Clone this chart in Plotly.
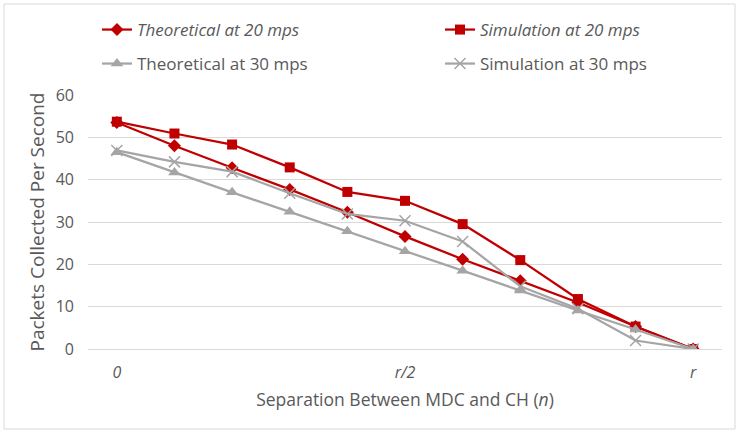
import plotly.graph_objects as go

# ---- data ----
positions = list(range(11))
tick_positions = [0, 5, 10]
tick_labels = ["<i>0</i>", "<i>r/2</i>", "<i>r</i>"]

theo_20 = [53.5, 48.0, 42.8, 37.7, 32.3, 26.6, 21.2, 16.1, 11.0, 5.3, 0.0]
sim_20 = [53.7, 50.9, 48.3, 42.9, 37.1, 35.0, 29.5, 21.0, 11.8, 5.3, 0.0]
theo_30 = [46.5, 41.7, 37.0, 32.4, 27.8, 23.1, 18.5, 13.8, 9.1, 4.6, 0.0]
sim_30 = [46.9, 44.2, 41.9, 36.8, 31.9, 30.3, 25.4, 14.8, 9.5, 2.0, 0.0]

RED = "#C00000"
GRAY = "#A5A5A5"
TXT = "#595959"
FONT = "Open Sans"

fig = go.Figure()
fig.add_trace(go.Scatter(x=positions, y=theo_20, name="<i>Theoretical at 20 mps</i>",
                         mode="lines+markers", line=dict(color=RED, width=2.25),
                         marker=dict(symbol="diamond", size=10, color=RED), legend="legend"))
fig.add_trace(go.Scatter(x=positions, y=sim_20, name="<i>Simulation at 20 mps</i>",
                         mode="lines+markers", line=dict(color=RED, width=2.25),
                         marker=dict(symbol="square", size=10, color=RED), legend="legend2"))
fig.add_trace(go.Scatter(x=positions, y=theo_30, name="Theoretical at 30 mps",
                         mode="lines+markers", line=dict(color=GRAY, width=2.25),
                         marker=dict(symbol="triangle-up", size=11, color=GRAY), legend="legend3"))
fig.add_trace(go.Scatter(x=positions, y=sim_30, name="Simulation at 30 mps",
                         mode="lines+markers", line=dict(color=GRAY, width=2.25),
                         marker=dict(symbol="x-thin", size=11, color=GRAY,
                                     line=dict(color=GRAY, width=1.5)), legend="legend4"))
for tr in fig.data:
    tr.showlegend = True

L, R, T, B = 88, 16, 95, 83
W, H = 738, 432
pw, ph = W - L - R, H - T - B

def px(xp):
    return (xp - L) / pw

def py(yp):
    return (H - B - yp) / ph

legend_common = dict(orientation="h",
                     font=dict(family=FONT, size=17, color=TXT), bgcolor="rgba(0,0,0,0)",
                     xanchor="left", yanchor="middle", itemwidth=30)

fig.update_layout(
    width=W, height=H,
    showlegend=True,
    margin=dict(l=L, r=R, t=T, b=B, autoexpand=False),
    paper_bgcolor="white", plot_bgcolor="white",
    font=dict(family=FONT, size=14, color=TXT),
    legend=dict(x=px(97), y=py(30), **legend_common),
    legend2=dict(x=px(440), y=py(30), **legend_common),
    legend3=dict(x=px(97), y=py(64), **legend_common),
    legend4=dict(x=px(440), y=py(64), **legend_common),
    xaxis=dict(range=[-0.5, 10.5], tickvals=tick_positions, ticktext=tick_labels,
               showgrid=False, zeroline=False, showline=False, ticks="",
               tickfont=dict(family=FONT, size=16, color=TXT), ticklabelstandoff=12,
               title=dict(text="Separation Between MDC and CH (<i>n</i>)",
                          font=dict(family=FONT, size=17.5, color=TXT), standoff=11)),
    yaxis=dict(range=[0, 60], dtick=10, showgrid=True, gridcolor="#D9D9D9", gridwidth=1,
               zeroline=True, zerolinecolor="#D9D9D9", zerolinewidth=1,
               showline=False, ticks="", ticklabelstandoff=13,
               tickfont=dict(family=FONT, size=16, color=TXT),
               title=dict(text="Packets Collected Per Second",
                          font=dict(family=FONT, size=19, color=TXT), standoff=6)),
    shapes=[dict(type="rect", xref="paper", yref="paper",
                 x0=px(4), x1=px(735), y0=py(429), y1=py(4),
                 line=dict(color="#D9D9D9", width=1), fillcolor="rgba(0,0,0,0)", layer="below")],
)

fig.write_html("out.html")
